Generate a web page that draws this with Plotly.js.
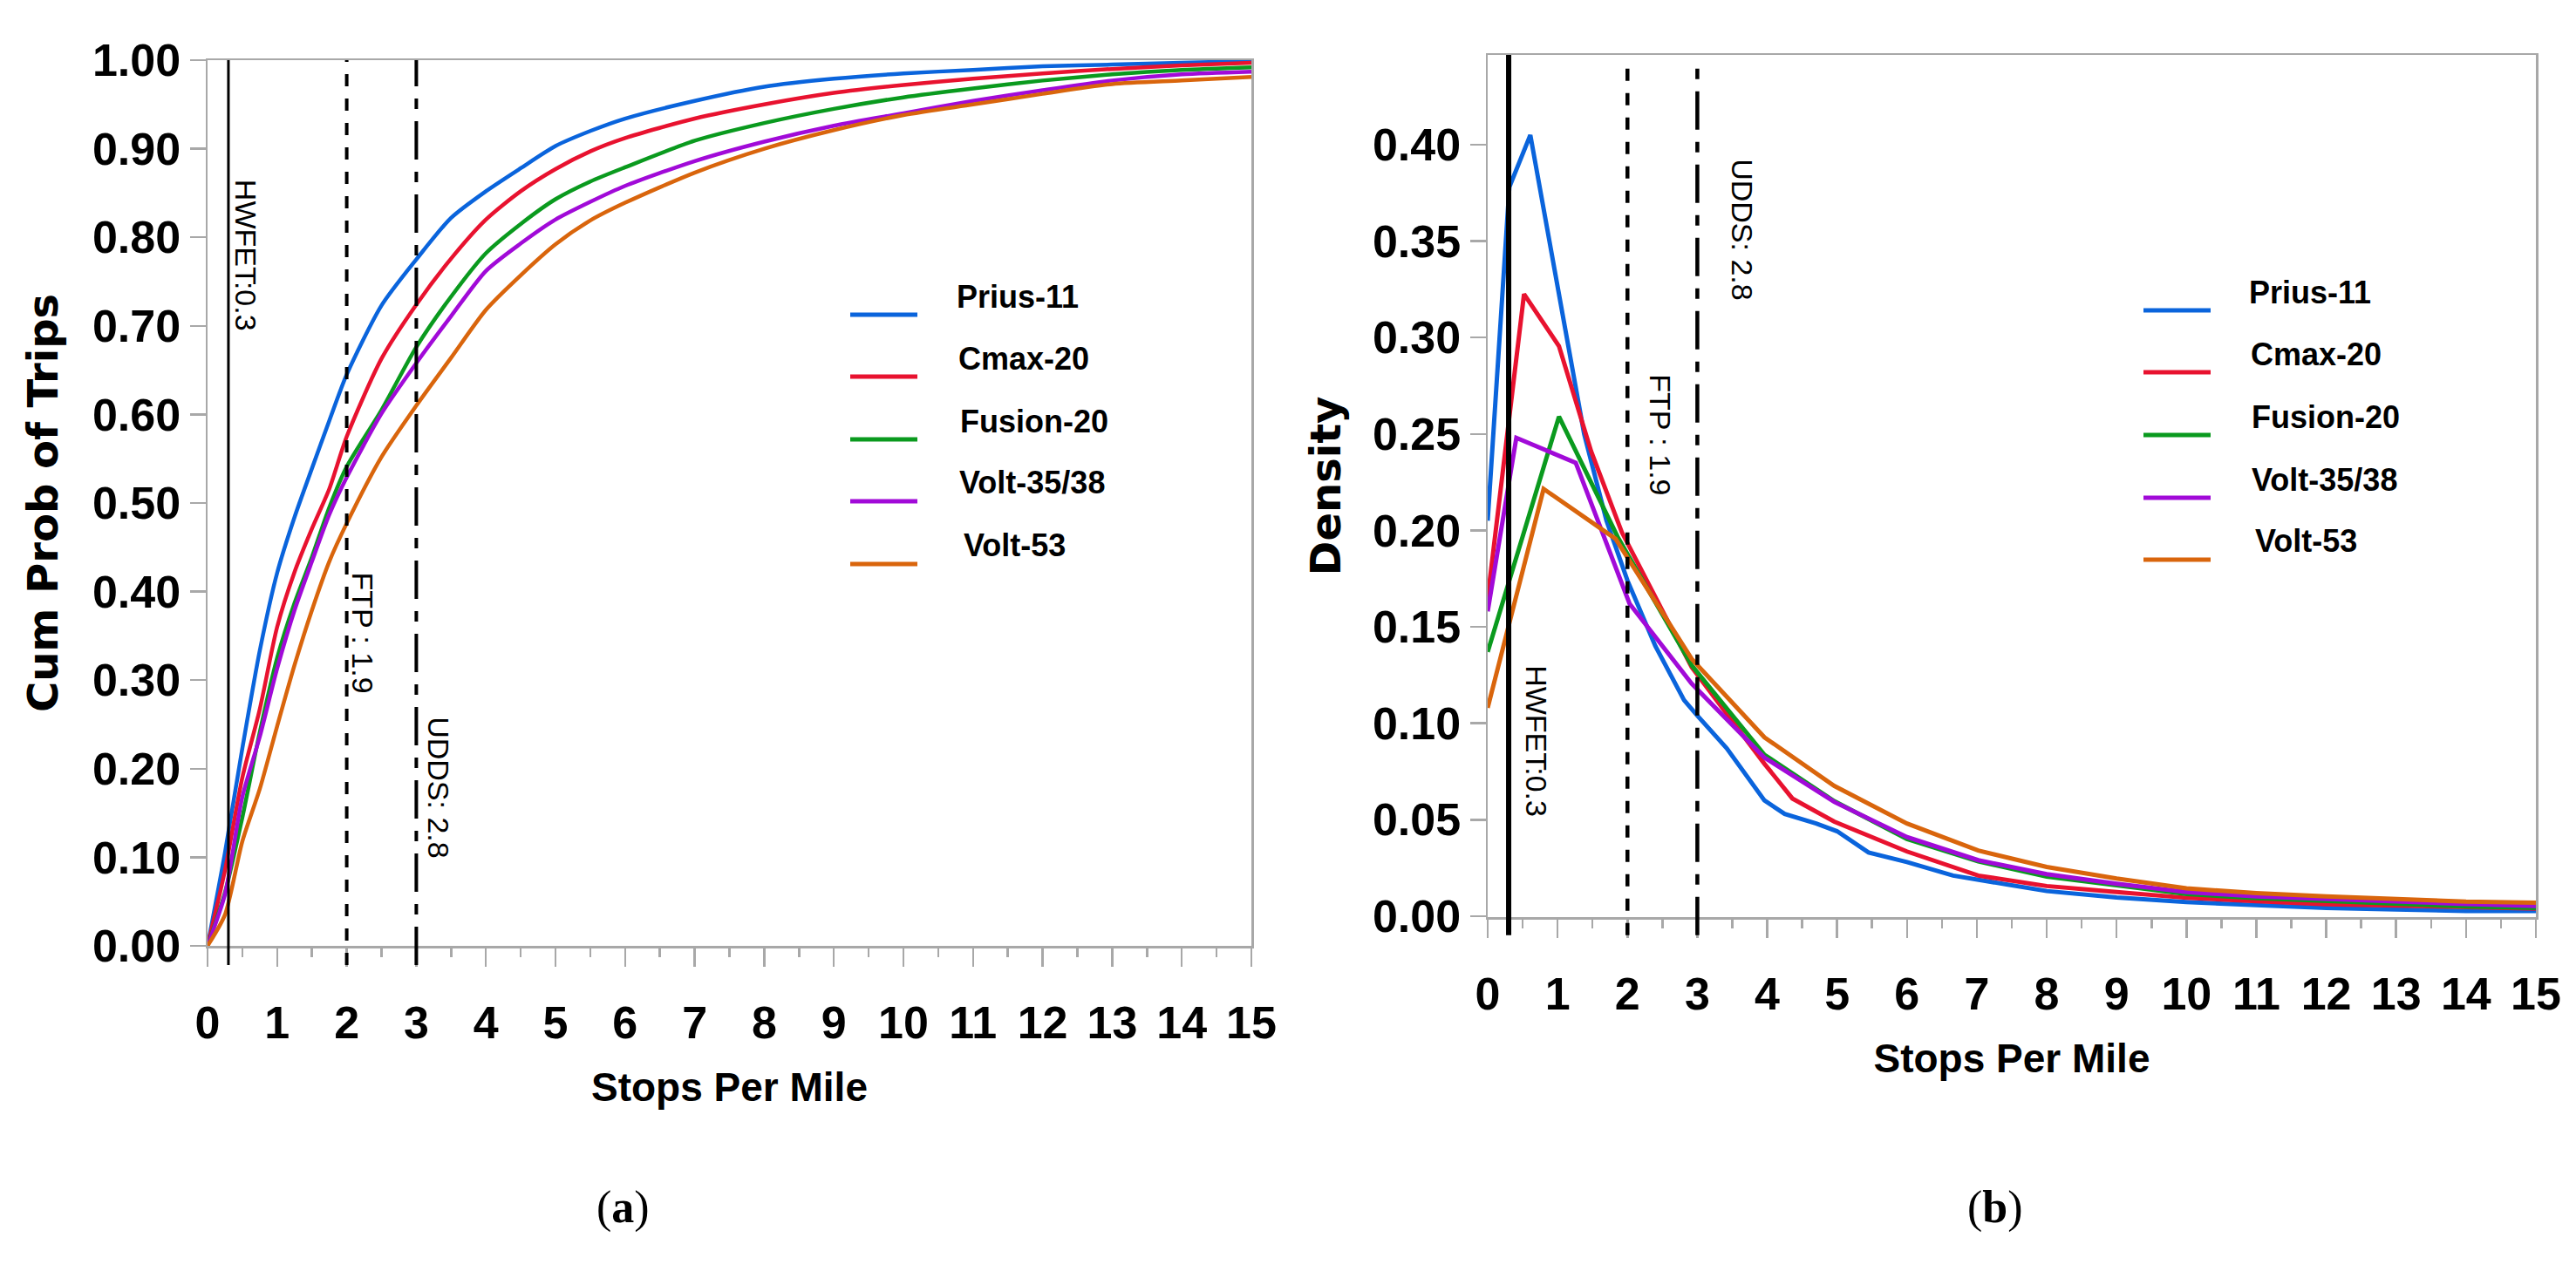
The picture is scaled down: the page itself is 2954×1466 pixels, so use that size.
<!DOCTYPE html>
<html>
<head>
<meta charset="utf-8">
<script src="https://cdn.plot.ly/plotly-3.0.1.min.js"></script>
<style>
html,body{margin:0;padding:0;background:#fff;}
#chart{width:2954px;height:1466px;}
</style>
</head>
<body>
<div id="chart"></div>
<script>
// ---------------- DATA ----------------
const seriesNames = ['Prius-11', 'Cmax-20', 'Fusion-20', 'Volt-35/38', 'Volt-53'];

// Panel (a): cumulative probability of trips vs stops per mile
const cdfX = [0, 0.25, 0.5, 0.75, 1, 1.25, 1.5, 1.75, 2, 2.5, 3, 3.5, 4, 4.5, 5, 5.5, 6, 7, 8, 9, 10, 11, 12, 13, 14, 15];
const cdfPrius   = [0, 0.105, 0.223, 0.333, 0.421, 0.484, 0.539, 0.593, 0.645, 0.723, 0.775, 0.822, 0.852, 0.878, 0.903, 0.920, 0.934, 0.954, 0.970, 0.979, 0.985, 0.989, 0.993, 0.995, 0.997, 0.999];
const cdfCmax    = [0, 0.085, 0.190, 0.267, 0.360, 0.422, 0.471, 0.516, 0.575, 0.663, 0.724, 0.776, 0.820, 0.852, 0.877, 0.897, 0.912, 0.934, 0.950, 0.963, 0.972, 0.979, 0.985, 0.990, 0.994, 0.997];
const cdfFusion  = [0, 0.060, 0.145, 0.241, 0.325, 0.387, 0.439, 0.495, 0.541, 0.605, 0.676, 0.733, 0.782, 0.815, 0.843, 0.863, 0.879, 0.909, 0.929, 0.945, 0.958, 0.968, 0.977, 0.984, 0.989, 0.992];
const cdfVolt3538= [0, 0.058, 0.168, 0.236, 0.313, 0.379, 0.434, 0.487, 0.529, 0.601, 0.658, 0.711, 0.762, 0.793, 0.820, 0.840, 0.858, 0.886, 0.908, 0.926, 0.940, 0.954, 0.966, 0.977, 0.984, 0.987];
const cdfVolt53  = [0, 0.035, 0.118, 0.177, 0.248, 0.317, 0.379, 0.434, 0.477, 0.552, 0.610, 0.664, 0.718, 0.757, 0.792, 0.819, 0.839, 0.873, 0.900, 0.921, 0.938, 0.950, 0.962, 0.973, 0.977, 0.981];

// Panel (b): density vs stops per mile (each series has its own points)
const densPriusX    = [0, 0.31, 0.61, 0.97, 1.38, 1.7, 2.0, 2.4, 2.81, 3.0, 3.42, 3.96, 4.25, 4.7, 5.0, 5.45, 6.0, 6.66, 7.02, 8.0, 9.0, 10, 11, 12, 13, 14, 15];
const densPriusY    = [0.205, 0.378, 0.405, 0.333, 0.250, 0.205, 0.174, 0.140, 0.112, 0.104, 0.087, 0.060, 0.053, 0.048, 0.044, 0.033, 0.028, 0.021, 0.019, 0.013, 0.0097, 0.0073, 0.0057, 0.0043, 0.0035, 0.0027, 0.0027];
const densCmaxX     = [0, 0.52, 1.02, 1.48, 1.92, 2.5, 2.92, 3.96, 4.36, 4.96, 6.0, 7.02, 8.0, 9.0, 10, 11, 12, 13, 14, 15];
const densCmaxY     = [0.165, 0.3225, 0.2955, 0.241, 0.199, 0.158, 0.129, 0.079, 0.061, 0.049, 0.0335, 0.021, 0.0156, 0.0125, 0.0095, 0.0077, 0.0062, 0.0055, 0.0045, 0.0039];
const densFusionX   = [0, 1.02, 1.86, 2.92, 3.96, 4.96, 6.0, 7.02, 8.0, 9.0, 10, 11, 12, 13, 14, 15];
const densFusionY   = [0.137, 0.259, 0.1966, 0.130, 0.0837, 0.0596, 0.040, 0.0284, 0.0205, 0.016, 0.0115, 0.0093, 0.0077, 0.0063, 0.005, 0.0042];
const densVolt3538X = [0, 0.41, 1.26, 2.03, 2.92, 3.96, 4.96, 6.0, 7.02, 8.0, 9.0, 10, 11, 12, 13, 14, 15];
const densVolt3538Y = [0.158, 0.248, 0.235, 0.162, 0.1205, 0.0822, 0.0592, 0.041, 0.029, 0.0218, 0.0168, 0.0125, 0.0102, 0.0088, 0.0075, 0.0063, 0.0053];
const densVolt53X   = [0, 0.8, 1.83, 2.92, 3.96, 4.96, 6.0, 7.02, 8.0, 9.0, 10, 11, 12, 13, 14, 15];
const densVolt53Y   = [0.108, 0.2215, 0.1956, 0.1333, 0.0927, 0.0675, 0.048, 0.034, 0.0255, 0.0195, 0.0144, 0.0119, 0.0102, 0.0087, 0.0075, 0.007];

// Drive-cycle reference lines
const cycleX      = [0.3, 2.0, 3.0];
const cycleLabels = ['HWFET:0.3', 'FTP : 1.9', 'UDDS: 2.8'];

// Tick values / labels
const xTicks    = [0, 1, 2, 3, 4, 5, 6, 7, 8, 9, 10, 11, 12, 13, 14, 15];
const cdfTicks  = [0, 0.1, 0.2, 0.3, 0.4, 0.5, 0.6, 0.7, 0.8, 0.9, 1.0];
const densTicks = [0, 0.05, 0.10, 0.15, 0.20, 0.25, 0.30, 0.35, 0.40];

const titleA_X = 'Stops Per Mile', titleA_Y = 'Cum Prob of Trips';
const titleB_X = 'Stops Per Mile', titleB_Y = 'Density';
const panelLabels = ['a', 'b'];

// ---------------- STYLE ----------------
const W = 2954, H = 1466;
const seriesColors = ['#0a64dc', '#e8122f', '#0a9a1e', '#a10ad8', '#d9650c'];
const NARROW = '"Liberation Sans Narrow", "Liberation Sans", Arial, sans-serif';
const SANS = '"Liberation Sans", Arial, sans-serif';
const WIDE = '"DejaVu Sans", Verdana, sans-serif';
const SERIF = '"Liberation Serif", "Times New Roman", serif';
const GRAY = '#a8a8a8';
const px = x => x / W;
const py = y => 1 - y / H;

const cdfSeries = [cdfPrius, cdfCmax, cdfFusion, cdfVolt3538, cdfVolt53];
const densSeries = [
  [densPriusX, densPriusY], [densCmaxX, densCmaxY], [densFusionX, densFusionY],
  [densVolt3538X, densVolt3538Y], [densVolt53X, densVolt53Y]
];

const traces = [];
cdfSeries.forEach((ys, i) => traces.push({
  type: 'scatter', mode: 'lines', x: cdfX, y: ys, name: seriesNames[i],
  xaxis: 'x', yaxis: 'y', showlegend: false,
  line: {color: seriesColors[i], width: 4.5, shape: 'spline', smoothing: 0.7}
}));
densSeries.forEach((d, i) => traces.push({
  type: 'scatter', mode: 'lines', x: d[0], y: d[1], name: seriesNames[i],
  xaxis: 'x2', yaxis: 'y2', showlegend: false,
  line: {color: seriesColors[i], width: 5}
}));

const xMinor = xTicks.slice(0, -1).map(v => v + 0.5);

function xAxis(domain, anchor, title) {
  return {
    domain: domain, anchor: anchor, range: [0, 15],
    tickmode: 'array', tickvals: xTicks, ticktext: xTicks.map(String),
    ticks: 'outside', ticklen: 21, tickwidth: 2.5, tickcolor: GRAY,
    minor: {tickmode: 'array', tickvals: xMinor, ticks: 'outside', ticklen: 10, tickwidth: 2.5, tickcolor: GRAY, showgrid: false},
    showline: true, linecolor: GRAY, linewidth: 2.5, mirror: true,
    showgrid: false, zeroline: false, fixedrange: true,
    ticklabelstandoff: 20,
    tickfont: {family: NARROW, size: 52, color: '#000', weight: 'bold'},
    title: {text: title, font: {family: NARROW, size: 46, color: '#000', weight: 'bold'}, standoff: 30}
  };
}
function yAxis(domain, anchor, range, ticks, title, standoff) {
  return {
    domain: domain, anchor: anchor, range: range,
    tickmode: 'array', tickvals: ticks, ticktext: ticks.map(v => v.toFixed(2)),
    ticks: 'outside', ticklen: 18, tickwidth: 2.5, tickcolor: GRAY,
    showline: true, linecolor: GRAY, linewidth: 2.5, mirror: true,
    showgrid: false, zeroline: false, fixedrange: true,
    tickfont: {family: NARROW, size: 52, color: '#000', weight: 'bold'},
    title: {text: title, font: {family: WIDE, size: 48, color: '#000', weight: 'bold'}, standoff: standoff}
  };
}

// reference lines (drawn through axis scales)
const shapes = [];
const annotations = [];
const cycleDash = ['solid', '14px,14px', '44px,14px,12px,14px'];
cycleX.forEach((cx, k) => {
  shapes.push({type: 'line', xref: 'x', yref: 'y domain', x0: cx, x1: cx, y0: -0.0217, y1: 1.0,
    line: {color: '#000', width: k === 0 ? 3 : 4, dash: cycleDash[k]}});
  shapes.push({type: 'line', xref: 'x2', yref: 'y2 domain', x0: cx, x1: cx, y0: -0.021, y1: k === 0 ? 1.0 : 0.985,
    line: {color: '#000', width: k === 0 ? 6 : 4.5, dash: cycleDash[k]}});
});
const labelPosA = [[0.56, 0.78], [2.23, 0.353], [3.32, 0.178]];
const labelPosB = [[0.705, 0.0905], [2.46, 0.2497], [3.65, 0.3558]];
cycleLabels.forEach((t, k) => {
  annotations.push({xref: 'x', yref: 'y', x: labelPosA[k][0], y: labelPosA[k][1], text: t, showarrow: false,
    textangle: 90, xanchor: 'center', yanchor: 'middle', font: {family: SANS, size: 34, color: '#000'}});
  annotations.push({xref: 'x2', yref: 'y2', x: labelPosB[k][0], y: labelPosB[k][1], text: t, showarrow: false,
    textangle: 90, xanchor: 'center', yanchor: 'middle', font: {family: SANS, size: 34, color: '#000'}});
});

// custom legends
const legA = {lineX: [975, 1052], lineY: [361, 432, 504, 575, 647], textX: [1095, 1097, 1099, 1098, 1103]};
const legB = {lineX: [2458, 2535], lineY: [356, 427, 499, 571, 642], textX: [2577, 2579, 2580, 2580, 2584]};
[legA, legB].forEach(L => {
  seriesNames.forEach((n, i) => {
    shapes.push({type: 'line', xref: 'paper', yref: 'paper',
      x0: px(L.lineX[0]), x1: px(L.lineX[1]), y0: py(L.lineY[i]), y1: py(L.lineY[i]),
      line: {color: seriesColors[i], width: 5}});
    annotations.push({xref: 'paper', yref: 'paper', x: px(L.textX[i]), y: py(L.lineY[i] - 21),
      text: n, showarrow: false, xanchor: 'left', yanchor: 'middle',
      font: {family: SANS, size: 36, color: '#000', weight: 'bold'}});
  });
});

// panel labels (a), (b)
const panelLabelX = [714, 2288];
panelLabels.forEach((p, i) => annotations.push({xref: 'paper', yref: 'paper', x: px(panelLabelX[i]), y: py(1385),
  text: '(<b>' + p + '</b>)', showarrow: false, xanchor: 'center', yanchor: 'middle',
  font: {family: SERIF, size: 52, color: '#000'}}));

const layout = {
  width: W, height: H,
  margin: {l: 0, r: 0, t: 0, b: 0, pad: 0},
  paper_bgcolor: '#ffffff', plot_bgcolor: '#ffffff',
  showlegend: false,
  font: {family: SANS, color: '#000'},
  xaxis: xAxis([px(238), px(1435)], 'y', titleA_X),
  yaxis: yAxis([py(1085), py(69)], 'x', [0, 1], cdfTicks, titleA_Y, 24),
  xaxis2: xAxis([px(1706), px(2908)], 'y2', titleB_X),
  yaxis2: yAxis([py(1052), py(63)], 'x2', [-0.0005, 0.4465], densTicks, titleB_Y, 21),
  shapes: shapes,
  annotations: annotations
};

Plotly.newPlot('chart', traces, layout, {staticPlot: true, displayModeBar: false});
</script>
</body>
</html>
